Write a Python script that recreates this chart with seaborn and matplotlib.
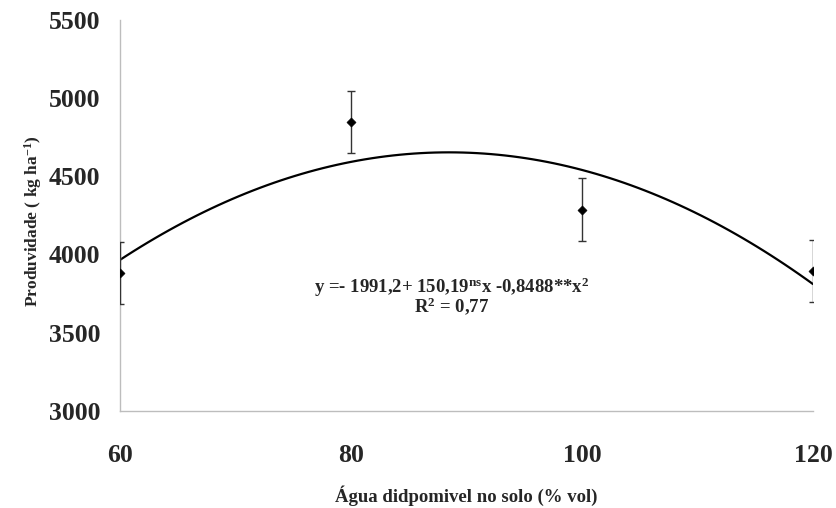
import matplotlib
matplotlib.use("Agg")
import matplotlib.pyplot as plt
import seaborn as sns
import pandas as pd

# ___ Data ___

agua = [60, 80, 100, 120]
produtividade = [3880, 4845, 4285, 3895]
erro = [200, 200, 200, 200]

equacao = r"y =- 1991,2+ 150,19$^{\mathrm{ns}}$x -0,8488**x$^{2}$"
r2 = r"R$^{2}$ = 0,77"

x_ticks = [60, 80, 100, 120]
y_ticks = [3000, 3500, 4000, 4500, 5000, 5500]

df = pd.DataFrame({"agua": agua, "prod": produtividade, "erro": erro})

# ___ Theme ___

sns.set_theme(style="white")
plt.rcParams["font.family"] = ["Liberation Serif", "DejaVu Serif"]
plt.rcParams["font.weight"] = "bold"
plt.rcParams["mathtext.fontset"] = "custom"
plt.rcParams["mathtext.rm"] = "Liberation Serif:bold"
plt.rcParams["mathtext.it"] = "Liberation Serif:bold"
plt.rcParams["mathtext.bf"] = "Liberation Serif:bold"

grey = "#bdbdbd"

fig, ax = plt.subplots(figsize=(8.36, 5.08), dpi=100)
fig.subplots_adjust(left=0.1435, right=0.9725, top=0.9616, bottom=0.191)

# trend line (2nd order fit of the means)
sns.regplot(data=df, x="agua", y="prod", order=2, ci=None, scatter=False,
            color="black", line_kws={"linewidth": 1.6}, ax=ax)

# error bars + points
ax.errorbar(df["agua"], df["prod"], yerr=df["erro"], fmt="none",
            ecolor="#333333", elinewidth=1.0, capsize=3, capthick=1.0, zorder=3)
sns.scatterplot(data=df, x="agua", y="prod", marker="D", s=22,
                color="black", edgecolor="black", ax=ax, zorder=4)

ax.text(88.7, 3735, equacao + "\n" + r2, ha="center", va="center",
        fontsize=13.5, fontweight="bold", linespacing=0.78, multialignment="center")

# ___ Axes ___

ax.set_xlim(60, 120)
ax.set_ylim(3000, 5500)
ax.set_xticks(x_ticks)
ax.set_yticks(y_ticks)
ax.tick_params(axis="y", direction="out", length=5, width=0.8, color=grey,
               pad=9, labelsize=18.5)
ax.tick_params(axis="x", direction="in", length=5, width=0.8, color=grey,
               pad=24, labelsize=18.5)
for lbl in ax.get_xticklabels() + ax.get_yticklabels():
    lbl.set_fontweight("bold")

ax.set_xlabel("Água didpomivel no solo (% vol)", fontsize=13.5, fontweight="bold", labelpad=13)
ax.set_ylabel(r"Produvidade ( kg ha$^{\mathrm{-1}}$)", fontsize=12.5, fontweight="bold")
ax.yaxis.set_label_coords(-0.109, 0.486)

sns.despine(ax=ax)
for side in ("left", "bottom"):
    ax.spines[side].set_color(grey)
    ax.spines[side].set_linewidth(1.0)

fig.savefig("out.png", dpi=100, facecolor="white")
